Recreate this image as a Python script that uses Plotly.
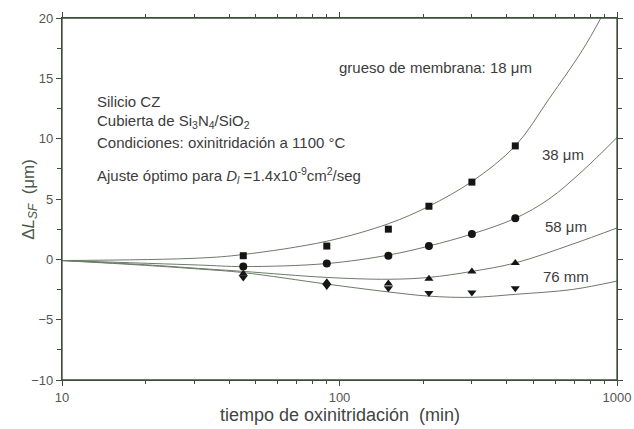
import plotly.graph_objects as go

# ---- data ----
t_meas = [45, 90, 150, 210, 300, 430]
sq_y = [0.3, 1.1, 2.5, 4.4, 6.4, 9.4]          # 18 um
ci_y = [-0.6, -0.35, 0.3, 1.1, 2.1, 3.4]       # 38 um
tu_y = [-1.2, -1.9, -2.0, -1.6, -1.0, -0.3]    # 58 um
td_y = [-1.5, -2.2, -2.4, -2.8, -2.75, -2.4]   # 76 mm

fit18_x = [10, 31, 45, 90, 150, 210, 300, 430, 569, 749, 875]
fit18_y = [-0.1, 0.1, 0.4, 1.5, 2.95, 4.4, 6.45, 9.4, 13.3, 17.3, 20.0]
fit38_x = [10, 31, 45, 90, 150, 210, 300, 430, 569, 749, 1000]
fit38_y = [-0.1, -0.47, -0.6, -0.35, 0.35, 1.1, 2.1, 3.4, 5.0, 7.3, 10.1]
fit58_x = [10, 20, 31, 45, 90, 150, 210, 300, 430, 690, 1000]
fit58_y = [-0.1, -0.45, -0.75, -1.0, -1.5, -1.65, -1.5, -1.0, -0.3, 1.25, 2.6]
fit76_x = [10, 20, 31, 45, 90, 150, 210, 300, 430, 690, 1000]
fit76_y = [-0.1, -0.5, -0.8, -1.1, -2.05, -2.7, -3.05, -3.15, -2.9, -2.5, -1.8]

x_major = [10, 100, 1000]
x_minor = [20, 30, 40, 50, 60, 70, 80, 90, 200, 300, 400, 500, 600, 700, 800, 900]
y_major = [-10, -5, 0, 5, 10, 15, 20]

LINE = "#6b7a68"
AXIS = "#3f4c3d"
MK = "#151515"
TXT = "#3c3c3c"
FONT = "Liberation Sans, Arial, sans-serif"

fig = go.Figure()
for fx, fy in [(fit18_x, fit18_y), (fit38_x, fit38_y), (fit58_x, fit58_y), (fit76_x, fit76_y)]:
    fig.add_trace(go.Scatter(x=fx, y=fy, mode="lines", line=dict(color=LINE, width=1, shape="spline", smoothing=1.0),
                             showlegend=False, hoverinfo="skip"))

fig.add_trace(go.Scatter(x=t_meas, y=sq_y, mode="markers", marker=dict(symbol="square", size=7, color=MK), showlegend=False))
fig.add_trace(go.Scatter(x=t_meas, y=ci_y, mode="markers", marker=dict(symbol="circle", size=8, color=MK), showlegend=False))
fig.add_trace(go.Scatter(x=t_meas, y=tu_y, mode="markers", marker=dict(symbol="triangle-up", size=8, color=MK), showlegend=False))
fig.add_trace(go.Scatter(x=t_meas, y=td_y, mode="markers", marker=dict(symbol="triangle-down", size=8, color=MK), showlegend=False))

common = dict(showgrid=False, zeroline=False, showline=True, linecolor=AXIS, linewidth=1.3, automargin=False)

fig.update_layout(
    width=634, height=429,
    margin=dict(l=62, r=17, t=18, b=49),
    paper_bgcolor="white", plot_bgcolor="white",
    font=dict(family=FONT, color=TXT, size=13),
    xaxis=dict(type="log", range=[1, 3], mirror="ticks", **common,
               tickmode="array", tickvals=x_major, ticktext=["10", "100", "1000"],
               ticks="outside", ticklen=5, tickcolor=AXIS,
               minor=dict(tickvals=x_minor, ticks="outside", ticklen=3, tickcolor=AXIS, showgrid=False),
               tickfont=dict(size=13, color="#555555", family=FONT)),
    yaxis=dict(range=[-10, 20], mirror="ticks", **common,
               tickmode="array", tickvals=y_major,
               ticks="outside", ticklen=5, tickcolor=AXIS,
               minor=dict(dtick=2.5, tick0=0, ticks="outside", ticklen=4, tickcolor=AXIS, showgrid=False),
               tickfont=dict(size=13, color="#555555", family=FONT)),
)

# frame around the plotting area
fig.add_shape(type="rect", xref="paper", yref="paper", x0=0, y0=0, x1=1, y1=1,
              line=dict(color=AXIS, width=1.3), fillcolor="rgba(0,0,0,0)", layer="above")

def note(text, x, y, size=15, angle=0, anchor="left", color=TXT):
    fig.add_annotation(text=text, x=x, y=y, xref="paper", yref="paper", xanchor=anchor, yanchor="middle",
                       showarrow=False, textangle=angle, font=dict(size=size, color=color, family=FONT))

# axis titles
note("tiempo de oxinitridación &nbsp;(min)", 0.5, -0.097, size=18, anchor="center", color="#444444")
note("Δ<i>L</i><sub><i>SF</i></sub> &nbsp;(μm)", -0.058, 0.5, size=17, angle=-90, anchor="center", color="#4a5a48")

note("grueso de membrana: 18 μm", 0.495, 0.862)
note("38 μm", 0.861, 0.622)
note("58 μm", 0.867, 0.425)
note("76 mm", 0.863, 0.287)
note("Silicio CZ", 0.059, 0.768)
note("Cubierta de Si<sub>3</sub>N<sub>4</sub>/SiO<sub>2</sub>", 0.059, 0.713)
note("Condiciones: oxinitridación a 1100 °C", 0.059, 0.655)
note("Ajuste óptimo para <i>D</i><sub><i>l</i></sub> =1.4x10<sup>-9</sup>cm<sup>2</sup>/seg", 0.059, 0.564)

# remove the default 8 px page margin so the figure fills the window exactly
fig.write_html("out.html", config={"displayModeBar": False},
               post_script="document.body.style.margin='0';")
